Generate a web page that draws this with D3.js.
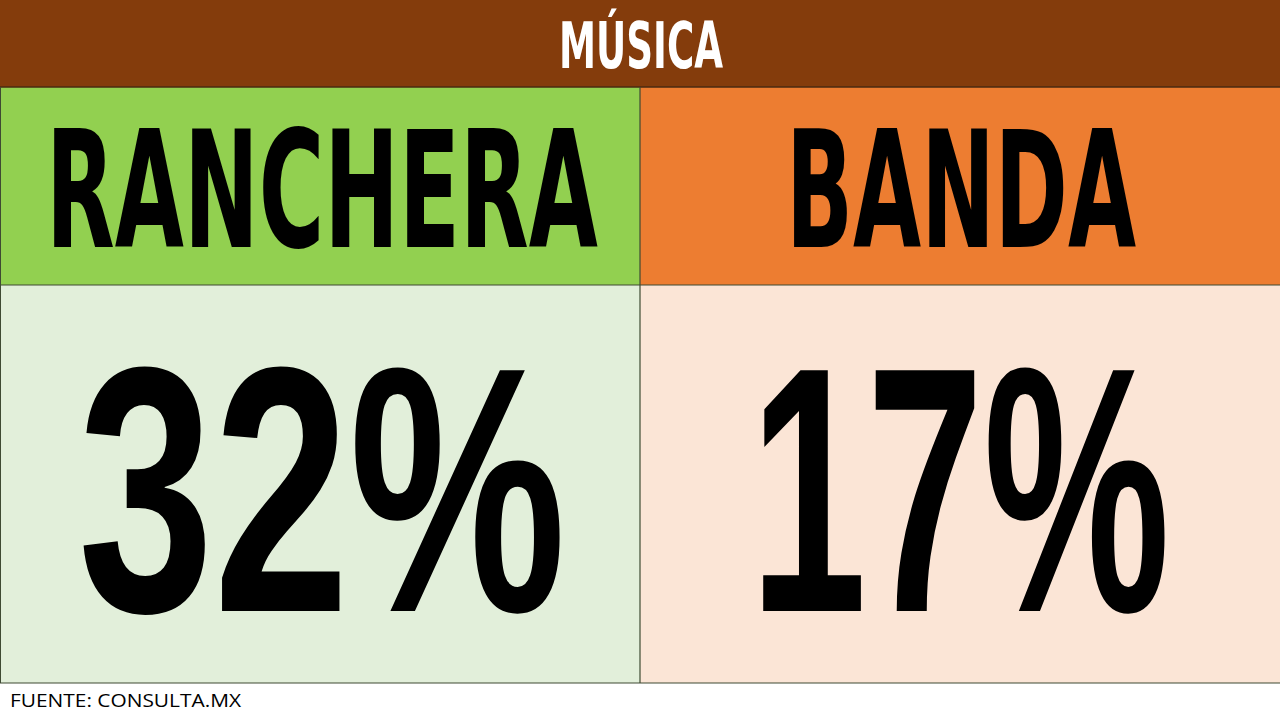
<!DOCTYPE html>
<html><head><meta charset="utf-8">
<script src="https://cdn.jsdelivr.net/npm/d3@7"></script>
<style>html,body{margin:0;padding:0;background:#fff;}svg{display:block;}</style>
</head><body>
<svg id="c" width="1280" height="720"></svg>
<script>
const title = "MÚSICA";
const categories = ["RANCHERA", "BANDA"];
const values = [32, 17];
const headerColors = ["#92D050", "#ED7D31"];
const cellColors = ["#E2EFDA", "#FBE5D6"];
const source = "FUENTE: CONSULTA.MX";

const W = 1280, H = 720;
const svg = d3.select("#c");
const x = d3.scaleBand().domain(categories).range([0, W]).padding(0);
const rows = { titleTop: 0, headTop: 87, valTop: 285, valBottom: 683 };
const condFont = "'DejaVu Sans Condensed','DejaVu Sans',sans-serif";
const numFont = "'Liberation Sans',Arial,sans-serif";

// draws text centred at cx, fitted horizontally to width w by a scale transform
function fitText(parent, str, cx, baseline, size, w, family, fill) {
  const g = parent.append("g");
  const t = g.append("text").attr("x", 0).attr("y", 0).attr("text-anchor", "middle")
    .attr("font-family", family).attr("font-weight", "bold").attr("font-size", size)
    .attr("fill", fill).text(str);
  const natural = t.node().getComputedTextLength();
  g.attr("transform", `translate(${cx},${baseline}) scale(${w / natural},1)`);
  return g;
}

// title bar
svg.append("rect").attr("x", 0).attr("y", rows.titleTop).attr("width", W).attr("height", rows.headTop)
  .attr("fill", "#843C0C");
fitText(svg, title, W / 2 + 1, 68, 64, 164, condFont, "#fff");

const headWidths = [552, 350];
const valWidths = [488, 420];
const valShift = [2, 0];

categories.forEach((d, i) => {
  svg.append("rect").attr("x", x(d)).attr("y", rows.headTop).attr("width", x.bandwidth())
    .attr("height", rows.valTop - rows.headTop).attr("fill", headerColors[i]);
  svg.append("rect").attr("x", x(d)).attr("y", rows.valTop).attr("width", x.bandwidth())
    .attr("height", rows.valBottom - rows.valTop).attr("fill", cellColors[i]);
});
categories.forEach((d, i) => {
  const cx = x(d) + x.bandwidth() / 2;
  fitText(svg, d, cx + (i === 0 ? 2 : 1), 247, 163, headWidths[i], condFont, "#000");
  fitText(svg, values[i] + "%", cx + valShift[i], 611, 350, valWidths[i], numFont, "#000");
});

// grid lines
const lc = "#3f4a33";
svg.append("line").attr("x1", 0).attr("x2", W).attr("y1", rows.headTop).attr("y2", rows.headTop).attr("stroke", "#4a2a10").attr("stroke-width", 1.5);
svg.append("line").attr("x1", 0).attr("x2", W).attr("y1", rows.valTop).attr("y2", rows.valTop).attr("stroke", lc).attr("stroke-width", 1.2);
svg.append("line").attr("x1", 0).attr("x2", W).attr("y1", rows.valBottom).attr("y2", rows.valBottom).attr("stroke", lc).attr("stroke-width", 1.2);
svg.append("line").attr("x1", x(categories[1])).attr("x2", x(categories[1])).attr("y1", rows.headTop).attr("y2", rows.valBottom).attr("stroke", lc).attr("stroke-width", 1.2);
svg.append("line").attr("x1", 0.5).attr("x2", 0.5).attr("y1", rows.headTop).attr("y2", rows.valBottom).attr("stroke", lc).attr("stroke-width", 1);

svg.append("text").attr("x", 10).attr("y", 707).attr("font-family", "'Open Sans',sans-serif")
  .attr("font-size", 18).attr("fill", "#000").attr("textLength", 231).attr("lengthAdjust", "spacingAndGlyphs")
  .text(source);
</script>
</body></html>
